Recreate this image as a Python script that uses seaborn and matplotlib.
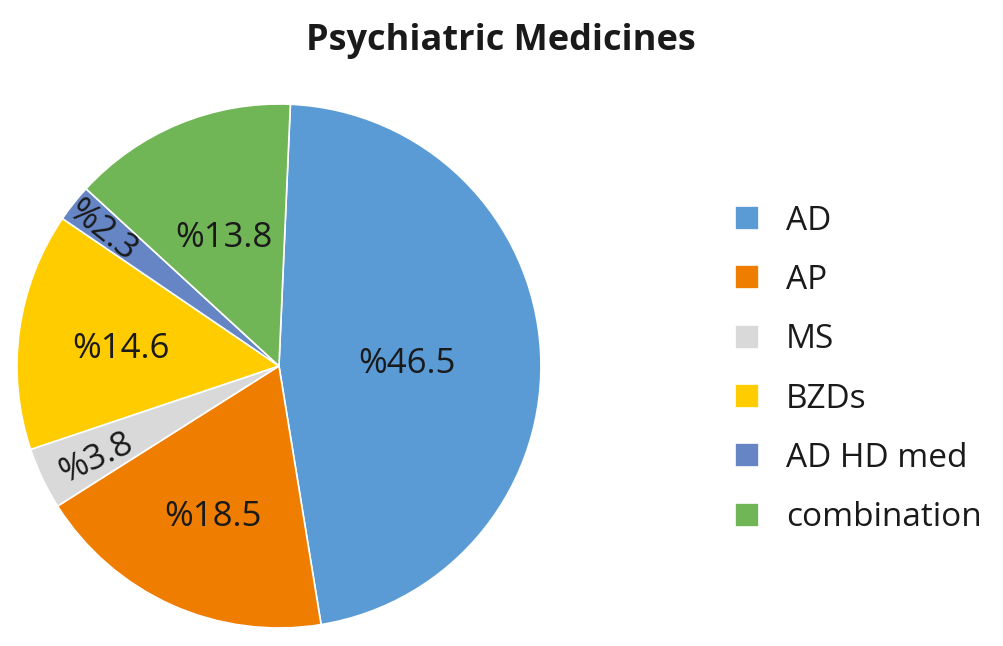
import numpy as np
import matplotlib
matplotlib.use("Agg")
import matplotlib.pyplot as plt
import seaborn as sns

# data
categories = ["AD", "AP", "MS", "BZDs", "AD HD med", "combination"]
shares = [46.5, 18.5, 3.8, 14.6, 2.3, 13.8]
slice_colors = ["#5B9BD5", "#EF7D00", "#D9D9D9", "#FFCC00", "#6585C5", "#70B556"]
title = "Psychiatric Medicines"

sns.set_theme(style="white")
plt.rcParams["font.family"] = ["Open Sans", "DejaVu Sans"]

fig = plt.figure(figsize=(10.04, 6.46), dpi=100)
ax = fig.add_axes([0.0169, 0.0279, 0.5219, 0.8111])

palette = sns.color_palette(slice_colors)
wedges, _ = ax.pie(shares, colors=palette, startangle=87.5, counterclock=False,
                   radius=1.0, wedgeprops=dict(edgecolor="white", linewidth=1.2))
ax.set_xlim(-1, 1)
ax.set_ylim(-1, 1)
ax.set_aspect("equal")
ax.axis("off")

# label distance from centre for each slice (fraction of radius)
label_r = [0.49, 0.61, 0.77, 0.61, 0.86, 0.55]
for w, val, r in zip(wedges, shares, label_r):
    mid = np.deg2rad((w.theta1 + w.theta2) / 2)
    x, y = r * np.cos(mid), r * np.sin(mid)
    rot = 0
    if val < 5:
        rot = np.rad2deg(mid) - 180
    ax.text(x, y - 0.02, f"%{val}", ha="center", va="center", fontsize=25,
            color="#1a1a1a", rotation=rot, rotation_mode="anchor")

fig.text(0.4985, 0.937, title, ha="center", va="center", fontsize=26,
         fontweight="bold", color="#1a1a1a")

leg = fig.legend(wedges, categories, loc="center left",
                 bbox_to_anchor=(0.702, 0.428), frameon=False, fontsize=24,
                 handlelength=0.73, handleheight=0.73, handletextpad=0.8,
                 labelspacing=0.79)
for t in leg.get_texts():
    t.set_color("#1a1a1a")

fig.savefig("out.png", dpi=100)
